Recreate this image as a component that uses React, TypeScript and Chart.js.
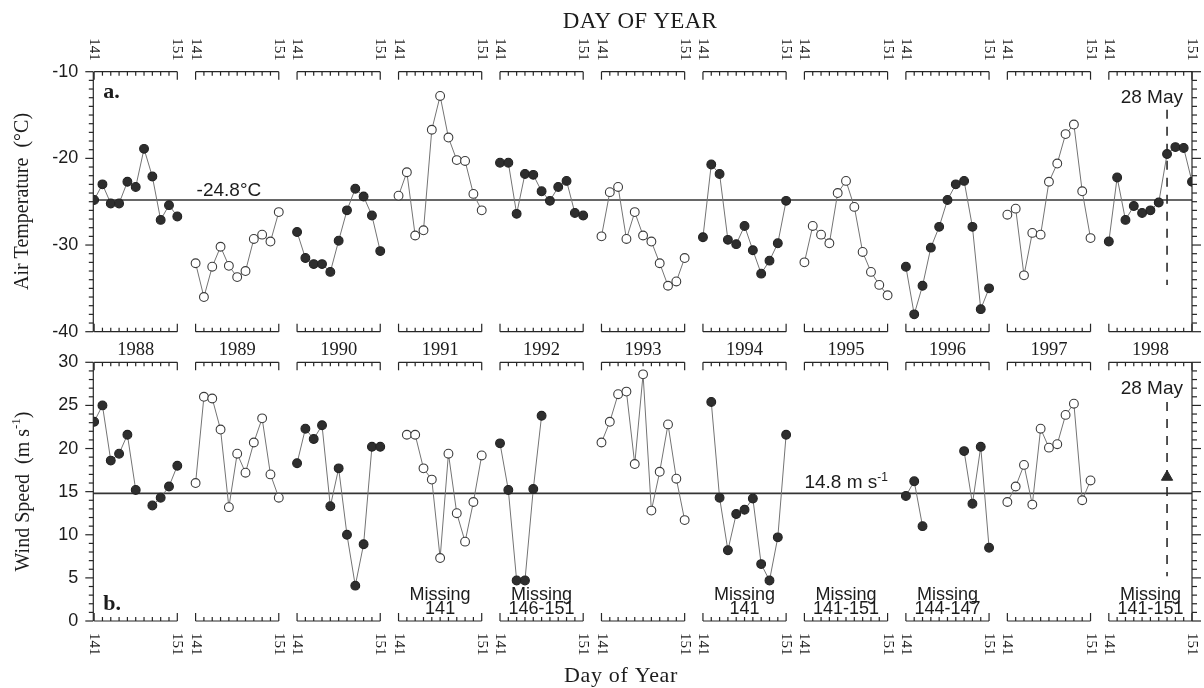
import React, { useEffect, useRef } from "react";
import { Chart, registerables } from "chart.js";

Chart.register(...registerables);

// ---------- data ----------
const YEARS = ["1988", "1989", "1990", "1991", "1992", "1993", "1994", "1995", "1996", "1997", "1998"];
const DAYS = [141, 142, 143, 144, 145, 146, 147, 148, 149, 150, 151];
const FILLED_YEARS = ["1988", "1990", "1992", "1994", "1996", "1998"];

const TEMP_1988 = [-24.8, -23.0, -25.2, -25.2, -22.7, -23.3, -18.9, -22.1, -27.1, -25.4, -26.7];
const TEMP_1989 = [-32.1, -36.0, -32.5, -30.2, -32.4, -33.7, -33.0, -29.3, -28.8, -29.6, -26.2];
const TEMP_1990 = [-28.5, -31.5, -32.2, -32.2, -33.1, -29.5, -26.0, -23.5, -24.4, -26.6, -30.7];
const TEMP_1991 = [-24.3, -21.6, -28.9, -28.3, -16.7, -12.8, -17.6, -20.2, -20.3, -24.1, -26.0];
const TEMP_1992 = [-20.5, -20.5, -26.4, -21.8, -21.9, -23.8, -24.9, -23.3, -22.6, -26.3, -26.6];
const TEMP_1993 = [-29.0, -23.9, -23.3, -29.3, -26.2, -28.9, -29.6, -32.1, -34.7, -34.2, -31.5];
const TEMP_1994 = [-29.1, -20.7, -21.8, -29.4, -29.9, -27.8, -30.6, -33.3, -31.8, -29.8, -24.9];
const TEMP_1995 = [-32.0, -27.8, -28.8, -29.8, -24.0, -22.6, -25.6, -30.8, -33.1, -34.6, -35.8];
const TEMP_1996 = [-32.5, -38.0, -34.7, -30.3, -27.9, -24.8, -23.0, -22.6, -27.9, -37.4, -35.0];
const TEMP_1997 = [-26.5, -25.8, -33.5, -28.6, -28.8, -22.7, -20.6, -17.2, -16.1, -23.8, -29.2];
const TEMP_1998 = [-29.6, -22.2, -27.1, -25.5, -26.3, -26.0, -25.1, -19.5, -18.7, -18.8, -22.7];
const TEMP_SERIES = [TEMP_1988, TEMP_1989, TEMP_1990, TEMP_1991, TEMP_1992, TEMP_1993, TEMP_1994, TEMP_1995, TEMP_1996, TEMP_1997, TEMP_1998];
const TEMP_MEAN = -24.8;
const TEMP_TICKS = [-10, -20, -30, -40];
const TEMP_DASH_RANGE = [-14.4, -34.6];

const N = null;
const WIND_1988 = [23.1, 25.0, 18.6, 19.4, 21.6, 15.2, N, 13.4, 14.3, 15.6, 18.0];
const WIND_1989 = [16.0, 26.0, 25.8, 22.2, 13.2, 19.4, 17.2, 20.7, 23.5, 17.0, 14.3];
const WIND_1990 = [18.3, 22.3, 21.1, 22.7, 13.3, 17.7, 10.0, 4.1, 8.9, 20.2, 20.2];
const WIND_1991 = [N, 21.6, 21.6, 17.7, 16.4, 7.3, 19.4, 12.5, 9.2, 13.8, 19.2];
const WIND_1992 = [20.6, 15.2, 4.7, 4.7, 15.3, 23.8, N, N, N, N, N];
const WIND_1993 = [20.7, 23.1, 26.3, 26.6, 18.2, 28.6, 12.8, 17.3, 22.8, 16.5, 11.7];
const WIND_1994 = [N, 25.4, 14.3, 8.2, 12.4, 12.9, 14.2, 6.6, 4.7, 9.7, 21.6];
const WIND_1995 = [N, N, N, N, N, N, N, N, N, N, N];
const WIND_1996 = [14.5, 16.2, 11.0, N, N, N, N, 19.7, 13.6, 20.2, 8.5];
const WIND_1997 = [13.8, 15.6, 18.1, 13.5, 22.3, 20.1, 20.5, 23.9, 25.2, 14.0, 16.3];
const WIND_1998 = [N, N, N, N, N, N, N, N, N, N, N];
const WIND_SERIES = [WIND_1988, WIND_1989, WIND_1990, WIND_1991, WIND_1992, WIND_1993, WIND_1994, WIND_1995, WIND_1996, WIND_1997, WIND_1998];
const WIND_MEAN = 14.8;
const WIND_TICKS = [0, 5, 10, 15, 20, 25, 30];
const WIND_DASH_RANGE = [25.4, 5.2];
const MAY28_YEAR = "1998";
const MAY28_DAY = 148;
const MAY28_WIND = 16.7;

const MISSING_YEARS = ["1991", "1992", "1994", "1995", "1996", "1998"];
const MISSING_RANGES = ["141", "146-151", "141", "141-151", "144-147", "141-151"];

// ---------- layout / style ----------
const W = 1204;
const PERIOD = 12.2;
const X_MIN = -0.1;
const X_MAX = 132;
const AXIS = "#262626";
const TEXT = "#1c1c1c";
const SANS = '"Liberation Sans", Arial, sans-serif';
const SERIF = '"Liberation Serif", "Times New Roman", serif';

const xOf = (yi: number, k: number) => yi * PERIOD + k;

type PanelOpts = { yMin: number; yMax: number; major: number; ticks: number[]; dayLabels: "top" | "bottom" };

function drawFrame(chart: any, o: PanelOpts) {
  const { ctx, chartArea: a } = chart;
  const xs = chart.scales.x;
  const ys = chart.scales.y;
  ctx.save();
  ctx.strokeStyle = AXIS;
  ctx.lineWidth = 1.2;
  const seg = (x1: number, y1: number, x2: number, y2: number) => {
    ctx.beginPath();
    ctx.moveTo(x1, y1);
    ctx.lineTo(x2, y2);
    ctx.stroke();
  };
  seg(a.left, a.top, a.left, a.bottom);
  seg(a.right, a.top, a.right, a.bottom);
  for (let v = o.yMin; v <= o.yMax; v++) {
    const py = ys.getPixelForValue(v);
    const major = Math.abs((v - o.yMin) % o.major) < 1e-9;
    seg(a.left - (major ? 8 : 4.5), py, a.left, py);
    seg(a.right, py, a.right + (major ? 9 : 5), py);
  }
  const last = DAYS.length - 1;
  YEARS.forEach((_, i) => {
    const x0 = xs.getPixelForValue(xOf(i, 0));
    const x1 = xs.getPixelForValue(xOf(i, last));
    const edges: [number, number][] = [[a.top, 1], [a.bottom, -1]];
    edges.forEach(([e, dir]) => {
      seg(x0, e, x1, e);
      DAYS.forEach((_, k) => {
        const px = xs.getPixelForValue(xOf(i, k));
        const end = k === 0 || k === last;
        seg(px, e, px, e + dir * (end ? 8 : 4));
      });
    });
  });
  ctx.fillStyle = TEXT;
  ctx.font = `18px ${SANS}`;
  ctx.textAlign = "right";
  ctx.textBaseline = "middle";
  o.ticks.forEach((v) => ctx.fillText(String(v), a.left - 15, ys.getPixelForValue(v)));
  ctx.font = `15px ${SERIF}`;
  YEARS.forEach((_, i) => {
    [0, last].forEach((k) => {
      const px = xs.getPixelForValue(xOf(i, k));
      ctx.save();
      ctx.translate(px, o.dayLabels === "top" ? a.top - 11 : a.bottom + 12);
      ctx.rotate(Math.PI / 2);
      ctx.textAlign = o.dayLabels === "top" ? "right" : "left";
      ctx.textBaseline = "middle";
      ctx.fillText(String(DAYS[k]), 0, 0);
      ctx.restore();
    });
  });
  ctx.restore();
}

type Part = { text: string; font: string; dy: number };
function drawParts(ctx: any, cx: number, cy: number, parts: Part[], rotate: boolean, align: "center" | "left" | "right") {
  ctx.save();
  ctx.translate(cx, cy);
  if (rotate) ctx.rotate(-Math.PI / 2);
  ctx.textAlign = "left";
  let total = 0;
  parts.forEach((p) => {
    ctx.font = p.font;
    total += ctx.measureText(p.text).width;
  });
  let x = align === "center" ? -total / 2 : align === "right" ? -total : 0;
  parts.forEach((p) => {
    ctx.font = p.font;
    ctx.fillText(p.text, x, p.dy);
    x += ctx.measureText(p.text).width;
  });
  ctx.restore();
}

function seriesDatasets(series: (number | null)[][]) {
  return series.map((vals, i) => {
    const filled = FILLED_YEARS.includes(YEARS[i]);
    return {
      label: YEARS[i],
      data: DAYS.map((_, k) => ({ x: xOf(i, k), y: vals[k] })),
      borderColor: "#747474",
      borderWidth: 1,
      pointRadius: 4.4,
      pointBorderWidth: 1.1,
      pointBackgroundColor: filled ? "#2e2e2e" : "#ffffff",
      pointBorderColor: filled ? "#222222" : "#3c3c3c",
      spanGaps: false,
      fill: false,
      tension: 0,
      order: 1,
    };
  });
}

function hLine(v: number) {
  return {
    label: "mean",
    data: [{ x: X_MIN, y: v }, { x: X_MAX, y: v }],
    borderColor: "#353535",
    borderWidth: 1.6,
    pointRadius: 0,
    order: 10,
  };
}

function vDash(range: number[]) {
  const xi = xOf(YEARS.indexOf(MAY28_YEAR), DAYS.indexOf(MAY28_DAY));
  return {
    label: "28 May",
    data: [{ x: xi, y: range[0] }, { x: xi, y: range[1] }],
    borderColor: "#2a2a2a",
    borderWidth: 1.6,
    borderDash: [9, 8],
    pointRadius: 0,
    order: 5,
  };
}

function baseOptions(yMin: number, yMax: number, padTop: number, padBottom: number) {
  return {
    responsive: false,
    animation: false as const,
    events: [],
    layout: { padding: { left: 93.3, right: W - 1192, top: padTop, bottom: padBottom } },
    scales: {
      x: { type: "linear" as const, min: X_MIN, max: X_MAX, display: false },
      y: { type: "linear" as const, min: yMin, max: yMax, display: false },
    },
    plugins: { legend: { display: false }, tooltip: { enabled: false } },
  };
}

export default function App() {
  const topRef = useRef<HTMLCanvasElement>(null);
  const botRef = useRef<HTMLCanvasElement>(null);

  useEffect(() => {
    const topPlugin = {
      id: "topDecor",
      afterDraw(chart: any) {
        drawFrame(chart, { yMin: -40, yMax: -10, major: 10, ticks: TEMP_TICKS, dayLabels: "top" });
        const { ctx, chartArea: a } = chart;
        const xs = chart.scales.x;
        const ys = chart.scales.y;
        ctx.save();
        ctx.fillStyle = TEXT;
        ctx.textBaseline = "middle";
        ctx.textAlign = "center";
        ctx.font = `23px ${SERIF}`;
        (ctx as any).letterSpacing = "0.3px";
        ctx.fillText("DAY OF YEAR", 640, 22);
        (ctx as any).letterSpacing = "0px";
        drawParts(ctx, 23, 201.5, [{ text: "Air Temperature  (°C)", font: `20px ${SERIF}`, dy: 0 }], true, "center");
        ctx.textBaseline = "alphabetic";
        ctx.textAlign = "left";
        ctx.font = `bold 22px ${SERIF}`;
        ctx.fillText("a.", a.left + 10, a.top + 26.5);
        ctx.font = `19px ${SANS}`;
        ctx.fillText("-24.8°C", xs.getPixelForValue(xOf(1, 0)) + 1, ys.getPixelForValue(TEMP_MEAN) - 3.5);
        ctx.textAlign = "right";
        ctx.fillText("28 May", a.right - 9, a.top + 31);
        ctx.restore();
      },
    };
    const botPlugin = {
      id: "botDecor",
      afterDraw(chart: any) {
        drawFrame(chart, { yMin: 0, yMax: 30, major: 5, ticks: WIND_TICKS, dayLabels: "bottom" });
        const { ctx, chartArea: a } = chart;
        const xs = chart.scales.x;
        const ys = chart.scales.y;
        ctx.save();
        ctx.fillStyle = TEXT;
        ctx.textBaseline = "middle";
        ctx.textAlign = "center";
        ctx.font = `18.5px ${SERIF}`;
        YEARS.forEach((yr, i) => {
          const cx = (xs.getPixelForValue(xOf(i, 0)) + xs.getPixelForValue(xOf(i, DAYS.length - 1))) / 2;
          ctx.fillText(yr, cx, a.top - 12.5);
        });
        ctx.font = `22px ${SERIF}`;
        (ctx as any).letterSpacing = "0.7px";
        ctx.fillText("Day of Year", 621, 336);
        (ctx as any).letterSpacing = "0px";
        ctx.textBaseline = "middle";
        drawParts(
          ctx,
          24,
          151.5,
          [
            { text: "Wind Speed  (m s", font: `20px ${SERIF}`, dy: 0 },
            { text: "-1", font: `13px ${SERIF}`, dy: -7 },
            { text: ")", font: `20px ${SERIF}`, dy: 0 },
          ],
          true,
          "center"
        );
        ctx.textBaseline = "alphabetic";
        ctx.textAlign = "left";
        ctx.font = `bold 22px ${SERIF}`;
        ctx.fillText("b.", a.left + 10, a.bottom - 11);
        drawParts(
          ctx,
          xs.getPixelForValue(xOf(7, 0)),
          ys.getPixelForValue(WIND_MEAN) - 5.5,
          [
            { text: "14.8 m s", font: `19px ${SANS}`, dy: 0 },
            { text: "-1", font: `12px ${SANS}`, dy: -7 },
          ],
          false,
          "left"
        );
        ctx.font = `19px ${SANS}`;
        ctx.textAlign = "right";
        ctx.fillText("28 May", a.right - 9, a.top + 31.7);
        ctx.textAlign = "center";
        ctx.font = `18px ${SANS}`;
        MISSING_YEARS.forEach((yr, j) => {
          const i = YEARS.indexOf(yr);
          const cx = (xs.getPixelForValue(xOf(i, 0)) + xs.getPixelForValue(xOf(i, DAYS.length - 1))) / 2;
          ctx.fillText("Missing", cx, a.bottom - 21);
          ctx.fillText(MISSING_RANGES[j], cx, a.bottom - 7.5);
        });
        ctx.restore();
      },
    };

    const topChart = new Chart(topRef.current as HTMLCanvasElement, {
      type: "line",
      data: { datasets: [hLine(TEMP_MEAN), vDash(TEMP_DASH_RANGE), ...seriesDatasets(TEMP_SERIES)] as any },
      options: baseOptions(-40, -10, 71.7, 340 - 331.7) as any,
      plugins: [topPlugin],
    });

    const mayX = xOf(YEARS.indexOf(MAY28_YEAR), DAYS.indexOf(MAY28_DAY));
    const botChart = new Chart(botRef.current as HTMLCanvasElement, {
      type: "line",
      data: {
        datasets: [
          hLine(WIND_MEAN),
          vDash(WIND_DASH_RANGE),
          ...seriesDatasets(WIND_SERIES),
          {
            label: "28 May wind",
            data: [{ x: mayX, y: MAY28_WIND }],
            showLine: false,
            pointStyle: "triangle",
            pointRadius: 6.5,
            pointBackgroundColor: "#2b2b2b",
            pointBorderColor: "#2b2b2b",
            order: 0,
          },
        ] as any,
      },
      options: baseOptions(0, 30, 362.3 - 340, 348 - (621 - 340)) as any,
      plugins: [botPlugin],
    });

    return () => {
      topChart.destroy();
      botChart.destroy();
    };
  }, []);

  return (
    <div style={{ position: "absolute", left: 0, top: 0, width: W, height: 688, background: "#ffffff", overflow: "hidden" }}>
      <canvas ref={topRef} width={W} height={340} style={{ position: "absolute", left: 0, top: 0, width: W, height: 340 }} />
      <canvas ref={botRef} width={W} height={348} style={{ position: "absolute", left: 0, top: 340, width: W, height: 348 }} />
    </div>
  );
}
